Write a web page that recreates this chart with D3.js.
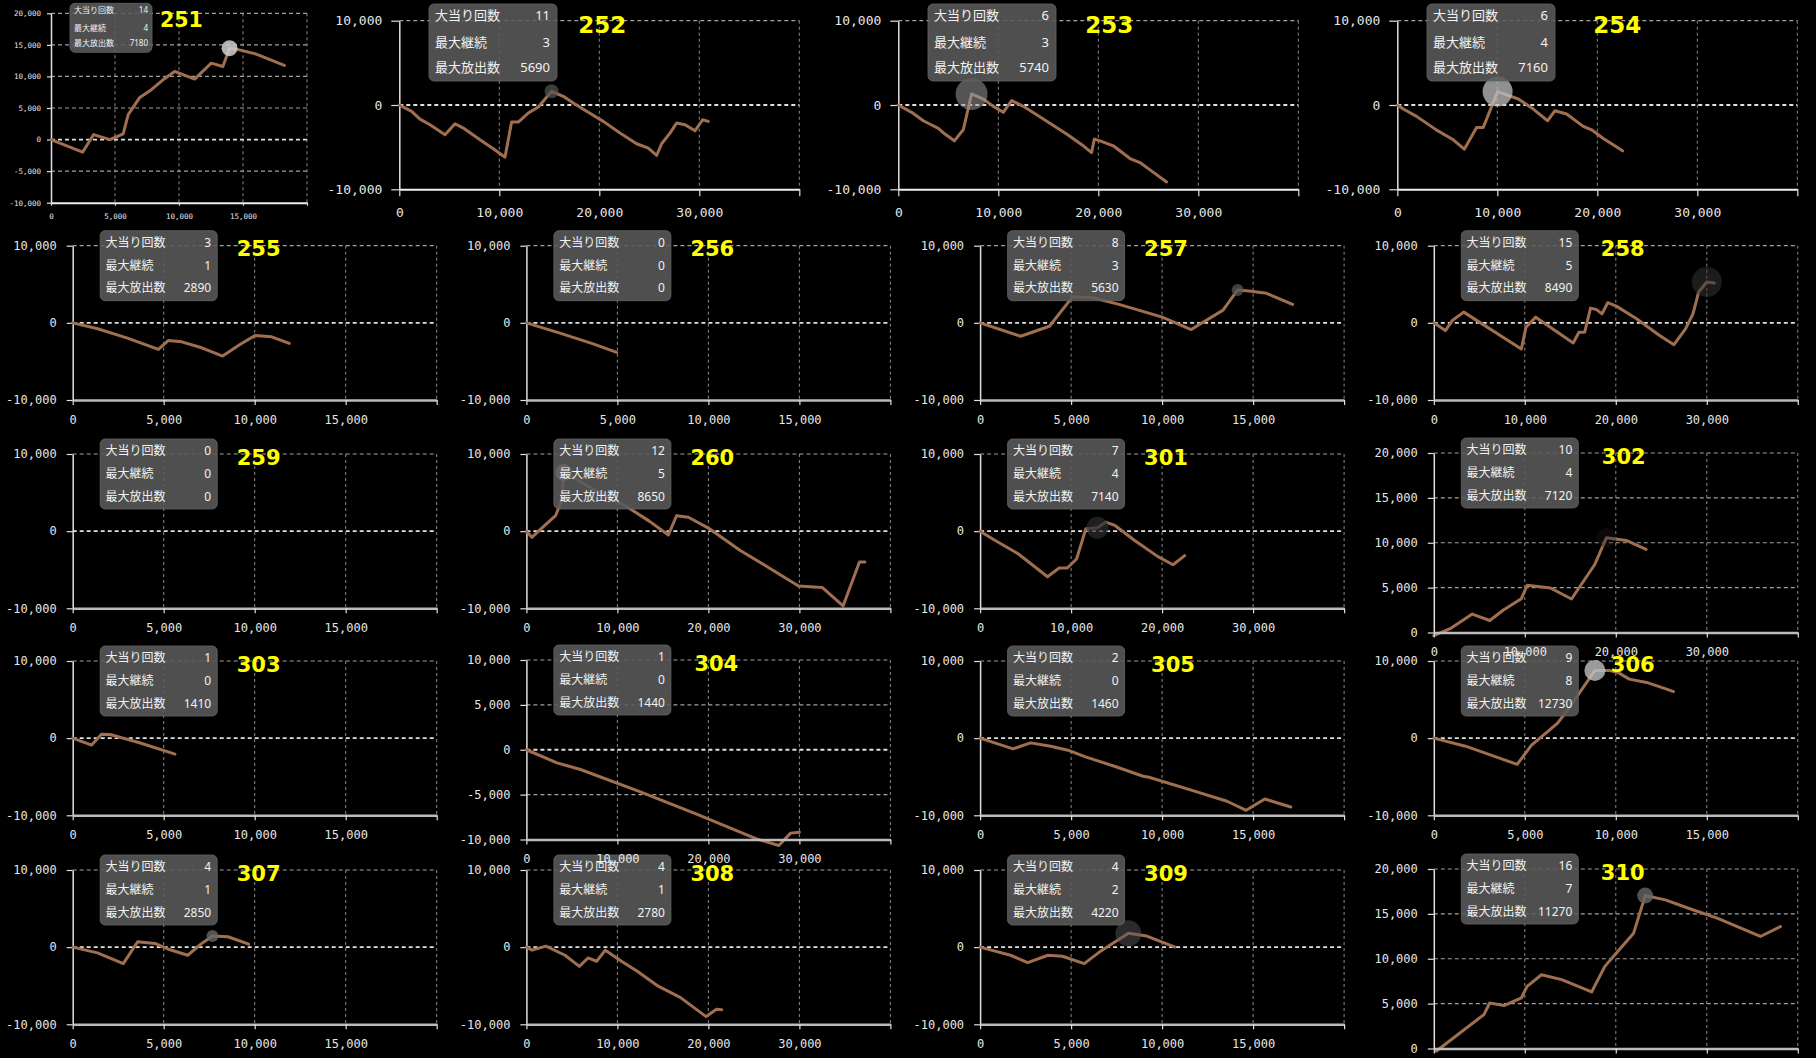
<!DOCTYPE html>
<html><head><meta charset="utf-8">
<script src="https://cdn.jsdelivr.net/npm/d3@7"></script>
<style>
html,body{margin:0;padding:0;background:#000;}
svg{display:block;}
</style></head>
<body>
<svg id="chart" width="1816" height="1058"></svg>
<script>
// ---------- DATA ----------
const machines = ["251","252","253","254","255","256","257","258","259","260","301","302","303","304","305","306","307","308","309","310"];
const bigHits   = [14, 11, 6, 6, 3, 0, 8, 15, 0, 12, 7, 10, 1, 1, 2, 9, 4, 4, 4, 16];
const maxStreak = [4, 3, 3, 4, 1, 0, 3, 5, 0, 5, 4, 4, 0, 0, 0, 8, 1, 1, 2, 7];
const maxPayout = [7180,5690,5740,7160,2890,0,5630,8490,0,8650,7140,7120,1410,1440,1460,12730,2850,2780,4220,11270];
const statLabels = ["大当り回数","最大継続","最大放出数"];

const xMax = [20000,40000,40000,40000,20000,20000,20000,40000,20000,40000,40000,40000,20000,40000,20000,20000,20000,40000,20000,40000];
const yTicksA = [-10000,-5000,0,5000,10000,15000,20000];
const yTicksB = [-10000,0,10000];
const yTicksC = [0,5000,10000,15000,20000];
const yTicksD = [-10000,-5000,0,5000,10000];
const yTickSet = [yTicksA,yTicksB,yTicksB,yTicksB,yTicksB,yTicksB,yTicksB,yTicksB,yTicksB,yTicksB,yTicksB,yTicksC,yTicksB,yTicksD,yTicksB,yTicksB,yTicksB,yTicksB,yTicksB,yTicksC];

const s251 = [[0,0],[2470,-2000],[3330,790],[4600,0],[5640,900],[6030,3950],[6940,6680],[7840,7900],[8750,9470],[9660,10790],[11220,9580],[12520,12100],[13430,11580],[13950,14470],[14470,14320],[16030,13530],[18230,11740]];
const s252 = [[0,0],[1230,-750],[2070,-1670],[3070,-2340],[4570,-3530],[5570,-2220],[6400,-2740],[8070,-4130],[9400,-5200],[10570,-6190],[11230,-2020],[11900,-2020],[12900,-950],[13900,-240],[15230,1630],[16400,1030],[17400,240],[18730,-750],[20400,-1940],[22070,-3330],[23730,-4600],[24900,-5120],[25730,-5990],[26230,-4600],[27070,-3330],[27730,-2140],[28570,-2340],[29570,-3060],[30330,-1750],[30900,-1940]];
const s253 = [[0,0],[1330,-870],[2500,-1870],[4000,-2780],[4670,-3450],[5600,-4250],[6500,-2940],[7330,1310],[8500,710],[9500,-160],[10500,-870],[11330,520],[12500,-160],[14500,-1670],[16830,-3450],[18500,-4840],[19330,-5640],[19600,-4050],[20170,-4250],[21500,-4840],[23170,-6350],[24170,-6830],[25170,-7700],[26830,-9130]];
const s254 = [[0,0],[600,-480],[1930,-1350],[3930,-2980],[5600,-4130],[6700,-5240],[7930,-2660],[8600,-2660],[10030,1590],[12100,710],[13600,-480],[15030,-1870],[15770,-680],[16930,-1070],[18600,-2540],[19430,-2940],[20600,-3970],[22530,-5440]];
const s255 = [[0,0],[1320,-730],[2970,-1940],[4710,-3450],[5260,-2280],[5990,-2460],[7090,-3230],[8240,-4310],[9190,-2800],[10020,-1640],[10930,-1810],[11900,-2670]];
const s256 = [[0,0],[1800,-1300],[3630,-2700],[4960,-3830]];
const s257 = [[0,0],[2230,-1740],[3810,-440],[5090,3390],[6200,3260],[7630,2390],[10010,740],[11600,-870],[13350,1650],[14150,4260],[14780,4130],[15740,3830],[17170,2390]];
const s258 = [[0,0],[1270,-1000],[2030,300],[3290,1390],[9620,-3390],[10130,-570],[11200,740],[15320,-2610],[15950,-1220],[16580,-1220],[17220,1910],[17850,1740],[18480,1170],[19110,2610],[20060,2170],[22280,520],[24810,-1650],[26390,-2830],[27660,-780],[28480,1170],[29110,4000],[30000,5300],[30820,5170]];
const s259 = [];
const s260 = [[0,0],[600,-800],[1600,300],[3200,2000],[3900,4000],[4100,7600],[5350,6800],[8000,5000],[11000,3200],[13500,1300],[15600,-500],[16500,2000],[17800,1800],[20000,400],[23500,-2500],[27000,-5000],[29900,-7100],[32500,-7300],[34800,-9700],[36600,-4000],[37200,-4000]];
const s301 = [[0,0],[1660,-1220],[4220,-2960],[7410,-5910],[8690,-4780],[9580,-4780],[10600,-3610],[11620,300],[12900,440],[13790,1170],[14820,740],[16990,-1220],[19540,-3300],[21200,-4350],[22480,-3170]];
const s302 = [[0,-340],[1920,490],[4230,2050],[6150,1340],[7690,2540],[9620,3770],[10260,5260],[12820,4960],[15130,3730],[17690,7580],[18970,10560],[21150,10260],[23330,9250]];
const s303 = [[0,0],[1040,-900],[1580,520],[2050,470],[3630,-560],[5620,-2070]];
const s304 = [[0,0],[3360,-1460],[5940,-2200],[12390,-4630],[18840,-7240],[25290,-9930],[27740,-10670],[29030,-9290],[30000,-9180]];
const s305 = [[0,0],[1810,-1390],[2770,-610],[3880,-1040],[4830,-1560],[5790,-2420],[7380,-3640],[8960,-4940],[9280,-5070],[11510,-6670],[13570,-8180],[14620,-9350],[15640,-7880],[17070,-8920]];
const s306 = [[0,0],[1740,-1040],[4580,-3390],[5370,-910],[6790,1910],[7420,3870],[8850,8780],[9630,8780],[10110,8520],[10740,7650],[11690,7220],[12790,6350],[13170,6040]];
const s307 = [[0,0],[1360,-740],[2780,-2140],[3570,700],[4520,480],[5310,-310],[6320,-1050],[7040,390],[7680,1440],[8530,1350],[9670,390]];
const s308 = [[0,0],[630,-390],[2150,130],[4240,-1050],[5820,-2490],[6770,-1400],[7720,-1830],[8670,-390],[10570,-1920],[12150,-3100],[14370,-4980],[16900,-6510],[19750,-9000],[20890,-8040],[21460,-8120]];
const s309 = [[0,0],[1670,-1050],[2620,-2010],[3730,-1050],[4520,-1180],[5720,-2140],[6570,-610],[8150,1790],[9160,1440],[10680,40]];
const s310 = [[250,-300],[5510,3780],[6140,5070],[7720,4780],[9620,5630],[10250,6930],[11840,8220],[14050,7670],[17340,6300],[18800,9150],[20060,10630],[21960,12850],[23230,17040],[25440,16560],[27980,15630],[31140,14520],[35890,12480],[38100,13590]];
const series = [s251,s252,s253,s254,s255,s256,s257,s258,s259,s260,s301,s302,s303,s304,s305,s306,s307,s308,s309,s310];

// highlighted point (index into the series) per machine, -1 = none
const highlightIdx = [13,14,7,8,-1,-1,9,21,-1,5,8,10,-1,-1,-1,6,8,-1,7,12];

// ---------- STYLE / LAYOUT ----------
const hlStyle = { // radius, fill, opacity
  0:[8,"#d0d0d0",0.85], 1:[7,"#555",0.7], 2:[16,"#999",0.55], 3:[15,"#c0c0c0",0.75],
  6:[6,"#555",0.75], 7:[15,"#333",0.55], 9:[8.5,"#d0d0d0",0.8], 10:[11,"#2c2c2c",0.7],
  11:[10,"#1c1c1c",0.35], 15:[10.5,"#c0c0c0",0.8], 16:[6,"#666",0.8], 18:[13,"#555",0.5], 19:[8,"#666",0.8]
};
const titleNudge = [0,-8,0,9,0,0,0,3,0,0,0,4,0,4,7,13,0,0,0,3];
const rowTops = [245.7, 454, 661, 870];

function layoutOf(i){
  if(i===0) return {left:51, top:13.3, width:256, height:189.4, kind:"s"};
  if(i<4)  return {left:399.3+(i-1)*499, top:20.7, width:400, height:168.6, kind:"l"};
  const k=i-4, r=Math.floor(k/4), c=k%4;
  const tall = yTickSet[i].length===5;
  return {left:72.7+c*453.7, top:rowTops[r]-(tall?1:0), width:364, height: tall?179.5:154.3, kind:"m"};
}
const K = {
  s:{tick:7.5, tickLen:4, tickPad:6, xPad:8, box:[19,-10,82,49], rows:[7,24.4,39.4], lab:4, valR:4, fs:8, title:20.5, tdx:109, tdy:14, axW:2, axC:"#eee"},
  l:{tick:13, tickLen:8, tickPad:9, xPad:11, box:[29.7,-16.7,128,77], rows:[11.7,38.7,63.7], lab:6, valR:7, fs:13, title:23, tdx:187, tdy:12.3, axW:2, axC:"#f0f0f0"},
  m:{tick:12, tickLen:6, tickPad:10, xPad:10, box:[27.5,-15,117,70], rows:[11.7,35,57.3], lab:5.3, valR:6, fs:12, title:21, tdx:164, tdy:10.5, axW:2.5, axC:"#bbb"}
};

const fmt = d3.formatLocale({decimal:".",thousands:",",grouping:[3],currency:["",""],minus:"-"}).format(",");
const svg = d3.select("#chart");
svg.append("rect").attr("width",1816).attr("height",1058).attr("fill","#000");
const base = svg.append("g");
const overlay = svg.append("g"); // x axes sit above neighbouring panels' boxes

machines.forEach((m,i)=>{
  const L = layoutOf(i), S = K[L.kind];
  const g = base.append("g").attr("transform",`translate(${L.left},${L.top})`);
  const yt = yTickSet[i];
  const x = d3.scaleLinear().domain([0,xMax[i]]).range([0,L.width]);
  const y = d3.scaleLinear().domain([yt[0],yt[yt.length-1]]).range([L.height,0]);
  const xt = d3.range(0,xMax[i]+1,xMax[i]/4);

  // grid
  g.append("g").selectAll("line").data(xt.slice(1)).join("line")
    .attr("x1",d=>x(d)).attr("x2",d=>x(d)).attr("y1",0).attr("y2",L.height)
    .attr("stroke","#8a8a8a").attr("stroke-width",1).attr("stroke-dasharray","3,3");
  g.append("g").selectAll("line").data(yt.slice(1)).join("line")
    .attr("x1",0).attr("x2",L.width).attr("y1",d=>y(d)).attr("y2",d=>y(d))
    .attr("stroke",d=>d===0?"#e0e0e0":"#a0a0a0").attr("stroke-width",d=>d===0?1.8:1.2).attr("stroke-dasharray","4,3");

  // axes
  const ya = g.append("g").call(d3.axisLeft(y).tickValues(yt).tickFormat(fmt).tickSize(S.tickLen).tickSizeOuter(0).tickPadding(S.tickPad));
  ya.select(".domain").attr("stroke","#e0e0e0").attr("stroke-width",1.5);
  ya.selectAll(".tick line").attr("stroke","#e0e0e0").attr("stroke-width",1.2);
  ya.selectAll("text").attr("fill","#e6e6e6").style("font-family","'DejaVu Sans Mono', monospace").style("font-size",S.tick+"px");

  const xa = overlay.append("g").attr("transform",`translate(${L.left},${L.top+L.height})`)
    .call(d3.axisBottom(x).tickValues(xt).tickFormat(fmt).tickSize(S.tickLen-1).tickSizeOuter(0).tickPadding(S.xPad));
  xa.select(".domain").attr("stroke",S.axC).attr("stroke-width",S.axW);
  xa.selectAll(".tick line").attr("stroke","#e0e0e0").attr("stroke-width",1.2);
  xa.selectAll("text").attr("fill","#e6e6e6").style("font-family","'DejaVu Sans Mono', monospace").style("font-size",S.tick+"px")
    .filter(d=>d===xMax[i]).remove();

  // line
  const data = series[i];
  if(data.length){
    g.append("path").datum(data)
      .attr("d",d3.line().x(d=>x(d[0])).y(d=>y(d[1])))
      .attr("fill","none").attr("stroke","#a06f50").attr("stroke-width",3)
      .attr("stroke-linejoin","round").attr("stroke-linecap","round");
  }
  // highlight
  if(highlightIdx[i]>=0 && hlStyle[i]){
    const p = data[highlightIdx[i]], st = hlStyle[i];
    g.append("circle").attr("cx",x(p[0])).attr("cy",y(p[1])).attr("r",st[0])
      .attr("fill",st[1]).attr("fill-opacity",st[2]);
  }

  // stats box
  const [bx,by,bw,bh] = S.box;
  const box = g.append("g").attr("transform",`translate(${bx},${by})`);
  box.append("rect").attr("width",bw).attr("height",bh).attr("rx",5).attr("ry",5)
    .attr("fill","#5a5a5a").attr("fill-opacity",0.88).attr("stroke","#666").attr("stroke-width",0.8);
  const vals = [bigHits[i],maxStreak[i],maxPayout[i]];
  statLabels.forEach((lab,j)=>{
    box.append("text").attr("x",S.lab).attr("y",S.rows[j]).attr("dy","0.36em")
      .attr("fill","#f2f2f2").style("font-family","'Noto Sans CJK JP', sans-serif").style("font-size",S.fs+"px").text(lab);
    box.append("text").attr("x",bw-S.valR).attr("y",S.rows[j]).attr("dy","0.36em").attr("text-anchor","end")
      .attr("fill","#f2f2f2").style("font-family","'Noto Sans', sans-serif").style("font-size",S.fs+"px").text(vals[j]);
  });

  // title
  g.append("text").attr("x",S.tdx+titleNudge[i]).attr("y",S.tdy)
    .attr("fill","#ffff00").style("font-family","'DejaVu Sans', sans-serif").style("font-weight","bold")
    .style("font-size",S.title+"px").text(m);
});
</script>
</body></html>
